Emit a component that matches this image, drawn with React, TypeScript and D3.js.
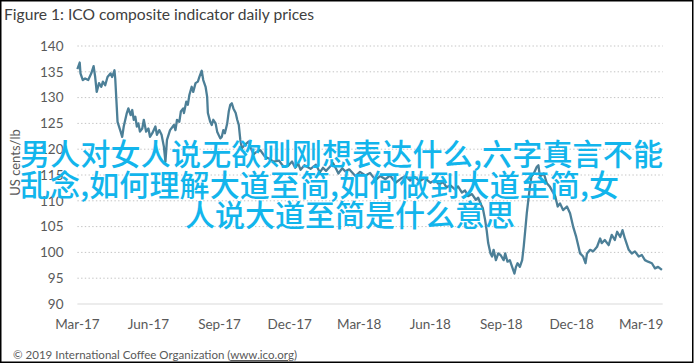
import React from 'react';
import * as d3 from 'd3';

const chartTitle = 'Figure 1: ICO composite indicator daily prices';
const yAxisTitle = 'US cents/lb';
const footerText = '© 2019 International Coffee Organization (';
const footerLink = 'www.ico.org';
const overlayLines = [
  '男人对女人说无欲则刚想表达什么,六字真言不能',
  '乱念,如何理解大道至简,如何做到大道至简,女',
  '人说大道至简是什么意思',
];

const yTicks = [90, 95, 100, 105, 110, 115, 120, 125, 130, 135, 140];
const xTickDates = [
  '2017-03-01', '2017-06-01', '2017-09-01', '2017-12-01', '2018-03-01',
  '2018-06-01', '2018-09-01', '2018-12-01', '2019-03-01',
];

const dates = [
  '2017-03-01', '2017-03-04', '2017-03-05', '2017-03-08', '2017-03-11', '2017-03-15', '2017-03-19', '2017-03-22',
  '2017-03-24', '2017-03-26', '2017-03-29', '2017-04-01', '2017-04-03', '2017-04-06', '2017-04-09', '2017-04-13',
  '2017-04-15', '2017-04-18', '2017-04-19', '2017-04-22', '2017-04-26', '2017-04-28', '2017-04-30', '2017-05-04',
  '2017-05-06', '2017-05-09', '2017-05-11', '2017-05-13', '2017-05-15', '2017-05-17', '2017-05-19', '2017-05-21',
  '2017-05-24', '2017-05-26', '2017-05-29', '2017-06-01', '2017-06-03', '2017-06-06', '2017-06-10', '2017-06-12',
  '2017-06-15', '2017-06-18', '2017-06-21', '2017-06-23', '2017-06-25', '2017-06-29', '2017-07-04', '2017-07-06',
  '2017-07-08', '2017-07-11', '2017-07-13', '2017-07-16', '2017-07-17', '2017-07-20', '2017-07-22', '2017-07-24',
  '2017-07-27', '2017-07-29', '2017-08-01', '2017-08-04', '2017-08-06', '2017-08-09', '2017-08-11', '2017-08-14',
  '2017-08-16', '2017-08-17', '2017-08-20', '2017-08-22', '2017-08-24', '2017-08-27', '2017-08-29', '2017-09-02',
  '2017-09-04', '2017-09-06', '2017-09-08', '2017-09-11', '2017-09-13', '2017-09-15', '2017-09-17', '2017-09-19',
  '2017-09-22', '2017-09-24', '2017-09-26', '2017-09-28', '2017-09-30', '2017-10-05', '2017-10-09', '2017-10-11',
  '2017-10-15', '2017-10-19', '2017-10-24', '2017-10-30', '2017-11-04', '2017-11-10', '2017-11-17', '2017-11-23',
  '2017-11-29', '2017-12-04', '2017-12-08', '2017-12-12', '2017-12-15', '2017-12-20', '2017-12-28', '2018-01-04',
  '2018-01-09', '2018-01-13', '2018-01-17', '2018-01-22', '2018-01-26', '2018-01-30', '2018-02-02', '2018-02-07',
  '2018-02-11', '2018-02-16', '2018-02-24', '2018-03-02', '2018-03-09', '2018-03-15', '2018-03-22', '2018-03-28',
  '2018-04-04', '2018-04-10', '2018-04-17', '2018-04-24', '2018-04-30', '2018-05-06', '2018-05-12', '2018-05-18',
  '2018-05-25', '2018-06-01', '2018-06-07', '2018-06-12', '2018-06-18', '2018-06-22', '2018-06-27', '2018-07-03',
  '2018-07-07', '2018-07-12', '2018-07-16', '2018-07-20', '2018-07-25', '2018-07-30', '2018-08-02', '2018-08-06',
  '2018-08-08', '2018-08-11', '2018-08-13', '2018-08-15', '2018-08-18', '2018-08-20', '2018-08-22', '2018-08-25',
  '2018-08-28', '2018-08-31', '2018-09-04', '2018-09-06', '2018-09-09', '2018-09-12', '2018-09-15', '2018-09-18',
  '2018-09-20', '2018-09-22', '2018-09-25', '2018-09-28', '2018-09-30', '2018-10-02', '2018-10-04', '2018-10-06',
  '2018-10-08', '2018-10-10', '2018-10-13', '2018-10-17', '2018-10-19', '2018-10-21', '2018-10-26', '2018-10-30',
  '2018-11-03', '2018-11-10', '2018-11-13', '2018-11-16', '2018-11-20', '2018-11-25', '2018-11-29', '2018-12-03',
  '2018-12-07', '2018-12-10', '2018-12-12', '2018-12-16', '2018-12-19', '2018-12-21', '2018-12-25', '2018-12-29',
  '2019-01-03', '2019-01-07', '2019-01-09', '2019-01-13', '2019-01-18', '2019-01-22', '2019-01-26', '2019-01-29',
  '2019-02-02', '2019-02-05', '2019-02-08', '2019-02-13', '2019-02-17', '2019-02-21', '2019-02-26', '2019-03-02',
  '2019-03-06', '2019-03-10', '2019-03-15', '2019-03-19', '2019-03-23', '2019-03-28',
];

const prices = [
  135.5, 136.8, 134.7, 133.4, 133.7, 133.4, 134.7, 136.1,
  134.0, 131.1, 132.8, 132.1, 133.1, 132.4, 134.0, 134.7,
  134.0, 135.3, 133.7, 125.3, 123.4, 122.4, 124.4, 127.0,
  127.9, 126.6, 127.6, 125.7, 126.3, 124.4, 125.0, 123.4,
  124.0, 125.7, 123.4, 124.0, 122.4, 123.1, 124.4, 122.8,
  123.7, 122.8, 120.5, 117.6, 121.8, 123.7, 124.7, 123.7,
  125.7, 125.3, 127.3, 127.9, 127.0, 129.2, 128.6, 130.5,
  132.1, 131.1, 132.8, 133.1, 134.0, 135.2, 133.4, 132.1,
  130.2, 127.0, 125.3, 124.7, 125.7, 125.0, 123.4, 122.1,
  122.4, 123.7, 123.1, 125.0, 127.3, 128.6, 128.9, 127.9,
  127.0, 125.7, 124.7, 121.8, 120.2, 121.0, 121.5, 120.4,
  119.0, 119.5, 119.8, 118.5, 118.2, 117.6, 117.8, 116.6,
  116.8, 117.6, 116.4, 117.2, 116.0, 116.9, 116.2, 117.0,
  115.5, 116.4, 115.8, 116.6, 117.3, 116.2, 115.3, 116.3,
  115.7, 116.1, 114.8, 115.6, 114.9, 115.4, 114.0, 114.8,
  114.2, 114.9, 113.5, 114.3, 114.8, 113.9, 114.6, 113.8,
  114.4, 113.5, 114.0, 113.2, 113.6, 112.6, 113.0, 112.2,
  112.8, 111.6, 112.0, 110.9, 111.3, 110.2, 110.6, 109.2,
  108.6, 106.3, 104.3, 101.8, 99.8, 99.2, 100.5, 98.5,
  99.8, 99.5, 98.5, 99.8, 98.2, 98.5, 97.2, 95.9,
  97.2, 97.9, 97.2, 98.5, 101.1, 104.3, 107.6, 110.2,
  112.7, 114.7, 115.3, 116.6, 116.9, 114.7, 115.3, 113.4,
  112.7, 110.8, 108.9, 109.5, 108.2, 108.9, 107.6, 105.0,
  103.0, 101.1, 99.8, 99.2, 97.9, 99.8, 100.5, 100.2,
  101.1, 102.7, 101.8, 102.4, 101.4, 103.4, 102.4, 104.0,
  103.0, 104.3, 102.7, 100.5, 99.8, 100.2, 99.2, 99.5,
  98.5, 98.2, 97.9, 96.9, 97.2, 96.6,
];

const W = 695;
const H = 364;
const LATO = 'Lato, "Open Sans", sans-serif';
const CJK = '"Noto Sans CJK SC", "Noto Sans", sans-serif';

export default function App() {
  const parse = d3.utcParse('%Y-%m-%d');
  const fmt = d3.utcFormat('%b-%y');
  const x = d3
    .scaleUtc()
    .domain([parse('2017-03-01') as Date, parse('2019-03-29') as Date])
    .range([77.4, 662.7]);
  const y = d3.scaleLinear().domain([90, 140]).range([304, 46]);
  const pts: [Date, number][] = dates.map((d, i) => [parse(d) as Date, prices[i]]);
  const line = d3
    .line<[Date, number]>()
    .x((d) => x(d[0]))
    .y((d) => y(d[1]));
  const [x0, x1] = x.range();

  const overlayX = [20, 20, 185];
  const overlayY = [165, 196, 226];
  const overlayLen = [643, 599, 330];

  return (
    <svg
      width={W}
      height={H}
      viewBox={`0 0 ${W} ${H}`}
      style={{ position: 'absolute', left: 0, top: 0, background: '#fff' }}
    >
      <rect x={0} y={0} width={W} height={H} fill="#fff" />
      <text x={4} y={20} fontFamily={LATO} fontSize={15.5} fill="#404040" textLength={310} lengthAdjust="spacingAndGlyphs">
        {chartTitle}
      </text>

      {yTicks.map((t) => (
        <g key={t}>
          <line
            x1={x0}
            x2={x1}
            y1={y(t)}
            y2={y(t)}
            stroke={t === 90 ? '#d9d9d9' : '#c4c4c4'}
            strokeWidth={1}
            strokeDasharray={t === 90 ? undefined : '1.4 2.3'}
          />
          <text
            x={63.5}
            y={y(t)}
            dy="0.35em"
            textAnchor="end"
            fontFamily={LATO}
            fontSize={13.5}
            fill="#595959"
          >
            {t}
          </text>
        </g>
      ))}

      {xTickDates.map((d) => {
        const dt = parse(d) as Date;
        return (
          <text
            key={d}
            x={x(dt)}
            y={329}
            textAnchor="middle"
            fontFamily={LATO}
            fontSize={13.5}
            fill="#595959"
          >
            {fmt(dt)}
          </text>
        );
      })}

      <text
        transform={`translate(19.5, 162.5) rotate(-90)`}
        textAnchor="middle"
        fontFamily={LATO}
        fontSize={13}
        fill="#595959"
      >
        {yAxisTitle}
      </text>

      <path d={line(pts) || ''} fill="none" stroke="#4c7f97" strokeWidth={2.3} strokeLinejoin="round" />

      <text x={13} y={359} fontFamily={LATO} fontSize={11.5} fill="#595959" textLength={284} lengthAdjust="spacingAndGlyphs">
        {footerText}
        <tspan style={{ textDecoration: 'underline' }}>{footerLink}</tspan>
        {')'}
      </text>

      {overlayLines.map((s, i) => (
        <text
          key={i}
          x={overlayX[i]}
          y={overlayY[i]}
          fontFamily={CJK}
          fontSize={30}
          fontWeight={500}
          fill="#12b5ec"
          textLength={overlayLen[i]}
          lengthAdjust="spacing"
        >
          {s}
        </text>
      ))}

      <rect x={0.75} y={0.75} width={692} height={361.5} fill="none" stroke="#000" strokeWidth={1.5} />
    </svg>
  );
}
